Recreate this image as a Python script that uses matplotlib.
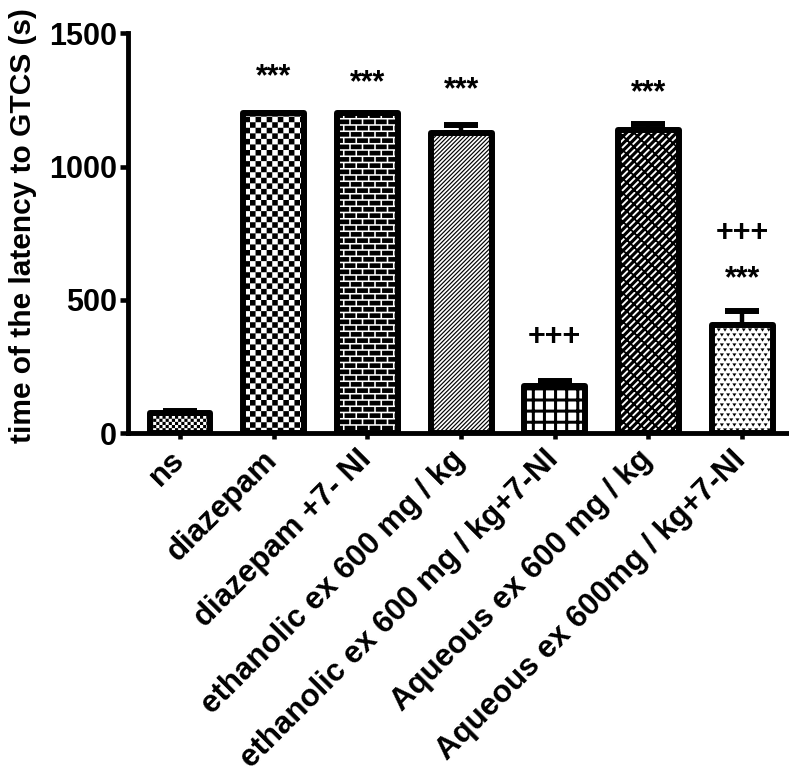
import numpy as np
import matplotlib
matplotlib.use('Agg')
import matplotlib.pyplot as plt
import matplotlib.hatch as mhatch
import matplotlib.transforms as mtrans
from matplotlib.path import Path

# ---------------- data ----------------
categories = ['ns', 'diazepam', 'diazepam +7- NI', 'ethanolic ex 600 mg / kg',
              'ethanolic ex 600 mg / kg+7-NI', 'Aqueous ex 600 mg / kg',
              'Aqueous ex 600mg / kg+7-NI']
means = [76, 1200, 1200, 1126, 178, 1137, 406]
sems = [6, 0, 0, 30, 18, 23, 52]
star_labels = ['', '***', '***', '***', '', '***', '***']
plus_labels = ['', '', '', '', '+++', '', '+++']
yticks = [0, 500, 1000, 1500]
ylabel = 'time of the latency to GTCS (s)'

# visual placement of the annotations (data units, visible centre)
star_y = [0, 1337, 1313, 1287, 0, 1276, 579]
plus_y = [0, 0, 0, 0, 362, 0, 751]

# ---------------- custom fill textures (filled-polygon hatches) ----------------
def _rect(x0, y0, x1, y1):
    return [(x0, y0), (x1, y0), (x1, y1), (x0, y1)]

def pat_checker(n):
    return [_rect(i / n, j / n, (i + 1) / n, (j + 1) / n)
            for i in range(n) for j in range(n) if (i + j) % 2 == 0]

def pat_bricks(rows, per_row, m):
    h = 1.0 / rows
    w = 1.0 / per_row
    polys = []
    for r in range(rows):
        off = (r % 2) * w / 2
        for k in range(-1, per_row + 1):
            x0 = k * w + off + m / 2
            polys.append(_rect(x0, r * h + m / 2, x0 + w - m, (r + 1) * h - m / 2))
    return polys

def pat_diag(n, frac):
    p = 1.0 / n
    w = p * frac
    polys = []
    for k in range(-n - 1, n + 2):
        a = k * p
        polys.append([(a, 0), (a + w, 0), (a + w + 1, 1), (a + 1, 1)])
    return polys

def pat_anti(n, w):
    p = 1.0 / n
    polys = []
    for k in range(-n - 1, n + 2):
        a = k * p
        polys.append([(a + 1, 0), (a + 1 + w, 0), (a + w, 1), (a, 1)])
    return polys

def pat_grid(n, t):
    polys = []
    for k in range(n + 1):
        c = k / n
        polys.append(_rect(-0.1, c - t / 2, 1.1, c + t / 2))
        polys.append(_rect(c - t / 2, -0.1, c + t / 2, 1.1))
    return polys

def pat_tri(cols, rows, w, h):
    polys = []
    for r in range(rows + 1):
        off = (r % 2) * 0.5 / cols
        for c in range(-1, cols + 1):
            cx = c / cols + off
            cy = r / rows
            polys.append([(cx - w / 2, cy + h / 2), (cx, cy - h / 2),
                          (cx + w / 2, cy + h / 2)])
    return polys

def _ccw(poly):
    a = 0.0
    for i in range(len(poly)):
        x0, y0 = poly[i]
        x1, y1 = poly[(i + 1) % len(poly)]
        a += x0 * y1 - x1 * y0
    return poly if a > 0 else poly[::-1]

CUSTOM = {
    'OO': pat_checker(32),                 # fine checker
    'O': pat_checker(18),                  # checkerboard
    'OOO': pat_bricks(16, 8, 0.016),       # bricks
    '*': pat_diag(24, 0.40),               # diagonal lines
    '**': pat_grid(9, 0.03),               # thick grid
    '***': pat_diag(14, 0.62) + pat_anti(7, 0.025),  # weave
    'O*': pat_tri(16, 20, 0.040, 0.032),   # small dots
}
CUSTOM = {k: [_ccw(p) for p in v] for k, v in CUSTOM.items()}


class CustomHatch(mhatch.HatchPatternBase):
    def __init__(self, hatch, density):
        self.polys = CUSTOM.get(hatch, [])
        self.num_vertices = sum(len(p) + 1 for p in self.polys)

    def set_vertices_and_codes(self, vertices, codes):
        k = 0
        for p in self.polys:
            n = len(p)
            vertices[k:k + n] = p
            vertices[k + n] = p[0]
            codes[k] = Path.MOVETO
            codes[k + 1:k + n] = Path.LINETO
            codes[k + n] = Path.CLOSEPOLY
            k += n + 1


mhatch._hatch_types = [t for t in mhatch._hatch_types
                       if t.__name__ not in ('LargeCircles', 'Stars')] + [CustomHatch]

hatches = ['OO', 'O', 'OOO', '*', '**', '***', 'O*']

# ---------------- plot ----------------
plt.rcParams['font.family'] = ['Liberation Sans', 'DejaVu Sans']
plt.rcParams['font.weight'] = 'bold'
plt.rcParams['hatch.linewidth'] = 0.01

fig = plt.figure(figsize=(7.89, 7.81), dpi=100)
ax = fig.add_axes([128 / 789, (781 - 433.3) / 781, 661 / 789, 400 / 781])

x = np.arange(len(categories))
ax.errorbar(x, means, yerr=[np.zeros(len(sems)), sems], fmt='none',
            ecolor='black', elinewidth=3.2, capsize=12.5, capthick=4.3, zorder=1)
bars = ax.bar(x, means, width=0.65, color='white', edgecolor='black',
              linewidth=4.3, zorder=2)
for b, h in zip(bars, hatches):
    b.set_hatch(h)
    b.set_joinstyle('round')

for xi, s, sy in zip(x, star_labels, star_y):
    if s:
        ax.text(xi, sy, s, ha='center', va='center', fontsize=22,
                fontweight='bold', clip_on=False)
for xi, s, py in zip(x, plus_labels, plus_y):
    if s:
        ax.text(xi, py, s, ha='center', va='center', fontsize=22,
                fontweight='bold', clip_on=False)

ax.set_xlim(-0.555, 6.5)
ax.set_ylim(0, 1500)
ax.set_yticks(yticks)
ax.set_xticks(x)
ax.set_xticklabels(categories, rotation=45, ha='right', va='top',
                   rotation_mode='anchor', fontsize=22.5, fontweight='bold')
ax.tick_params(axis='y', labelsize=22, width=3.3, length=6, pad=2)
ax.tick_params(axis='x', width=3.3, length=4, pad=7)
for t in ax.get_yticklabels():
    t.set_fontweight('bold')
shift = mtrans.ScaledTranslation(-11 / 100, 4 / 100, fig.dpi_scale_trans)
for t in ax.get_xticklabels():
    t.set_transform(t.get_transform() + shift)

ax.spines['top'].set_visible(False)
ax.spines['right'].set_visible(False)
ax.spines['left'].set_linewidth(3.5)
ax.spines['bottom'].set_linewidth(3.5)
ax.spines['left'].set_bounds(0, 1500)

ax.set_ylabel(ylabel, fontsize=21.5, fontweight='bold')
ax.yaxis.set_label_coords(-0.137, 0.52)

fig.savefig('out.png', dpi=100)
